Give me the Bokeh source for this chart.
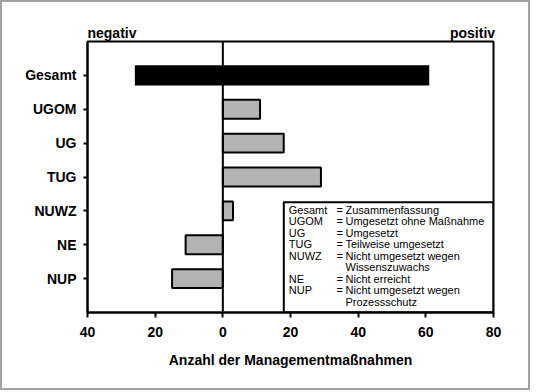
from bokeh.plotting import figure
from bokeh.models import (ColumnDataSource, Range1d, FixedTicker, Span, BoxAnnotation, LinearAxis)
from bokeh.core.properties import value
from bokeh.embed import file_html
from bokeh.resources import INLINE

# ---- data ----
categories = ["Gesamt", "UGOM", "UG", "TUG", "NUWZ", "NE", "NUP"]
values = [None, 11, 18, 29, 3, -11, -15]
gesamt_negative = -26
gesamt_positive = 61
x_ticks = [-40, -20, 0, 20, 40, 60, 80]
x_tick_labels = ["40", "20", "0", "20", "40", "60", "80"]
legend_abbr = ["Gesamt", "UGOM", "UG", "TUG", "NUWZ", "", "NE", "NUP", ""]
legend_text = ["Zusammenfassung", "Umgesetzt ohne Maßnahme", "Umgesetzt",
               "Teilweise umgesetzt", "Nicht umgesetzt wegen", "Wissenszuwachs",
               "Nicht erreicht", "Nicht umgesetzt wegen", "Prozessschutz"]
legend_eq = ["=", "=", "=", "=", "=", "", "=", "=", ""]
x_axis_title = "Anzahl der Managementmaßnahmen"
side_titles = ["negativ", "positiv"]

FONT = "Liberation Sans"
n = len(categories)
ypos = [n - i for i in range(n)]  # Gesamt at top

FW, FH = 406, 271
p = figure(width=526, height=386, output_backend="svg", toolbar_location=None,
           x_range=Range1d(-40, 80), y_range=Range1d(0, n + 1),
           frame_width=FW, frame_height=FH,
           min_border_left=85, min_border_right=35, min_border_top=39, min_border_bottom=76)
p.styles = {"border": "2px solid #a3a3a3"}
p.background_fill_color = "white"
p.border_fill_color = "white"
p.outline_line_color = "black"
p.outline_line_width = 2
p.xgrid.visible = False
p.ygrid.visible = False

px_x = FW / 120.0
px_y = FH / (n + 1)

# Gesamt bar
p.hbar(y=[ypos[0]], left=[gesamt_negative], right=[gesamt_positive], height=0.6,
       fill_color="black", line_color=None)

# other bars
src = ColumnDataSource(dict(y=ypos[1:], right=values[1:], left=[0] * (n - 1)))
p.hbar(y="y", left="left", right="right", height=0.56, source=src,
       fill_color="#b3b3b3", line_color="black", line_width=2)

p.add_layout(Span(location=0, dimension="height", line_color="black", line_width=2))

# axes
xa = p.xaxis[0]
xa.ticker = FixedTicker(ticks=x_ticks)
xa.major_label_overrides = {t: l for t, l in zip(x_ticks, x_tick_labels)}
xa.minor_tick_line_color = None
xa.major_tick_in = 0
xa.major_tick_out = 5
xa.major_tick_line_width = 2
xa.axis_line_width = 2
xa.major_label_text_font = FONT
xa.major_label_text_font_style = "bold"
xa.major_label_text_font_size = "14px"
xa.major_label_text_color = "black"
xa.major_label_standoff = 9
xa.axis_label = x_axis_title
xa.axis_label_text_font = FONT
xa.axis_label_text_font_style = "bold"
xa.axis_label_text_font_size = "14px"
xa.axis_label_text_color = "black"
xa.axis_label_standoff = 12

ya = p.yaxis[0]
ya.ticker = FixedTicker(ticks=ypos)
ya.major_label_overrides = {y: c for y, c in zip(ypos, categories)}
ya.minor_tick_line_color = None
ya.major_tick_in = 0
ya.major_tick_out = 4
ya.major_tick_line_width = 2
ya.axis_line_width = 2
ya.major_label_text_font = FONT
ya.major_label_text_font_style = "bold"
ya.major_label_text_font_size = "14px"
ya.major_label_text_color = "black"
ya.major_label_standoff = 7

# "negativ" / "positiv" above the frame, via an extra axis without line/ticks
neg_center = -40 + 24.5 / px_x
pos_center = 80 + 1.5 / px_x - 22.5 / px_x
top_ticks = [neg_center, pos_center]
ta = LinearAxis(ticker=FixedTicker(ticks=top_ticks),
                major_label_overrides={t: s for t, s in zip(top_ticks, side_titles)},
                axis_line_color=None, major_tick_line_color=None, minor_tick_line_color=None,
                major_tick_in=0, major_tick_out=0,
                major_label_standoff=1, major_label_text_font=FONT,
                major_label_text_font_style="bold", major_label_text_font_size="14px",
                major_label_text_color="black")
p.add_layout(ta, "above")

# legend box
box_left = -40 + (283.3 - 87) / px_x
box_top = (312 - 201.7) / px_y
p.add_layout(BoxAnnotation(left=box_left, right=80, bottom=0, top=box_top,
                           fill_alpha=0, line_color="black", line_alpha=1, line_width=2))
rows_y = [(312 - (209.3 + 11.5 * i)) / px_y for i in range(len(legend_text))]
lsrc = ColumnDataSource(dict(y=rows_y, abbr=legend_abbr, eq=legend_eq, txt=legend_text))
common = dict(text_font=value(FONT), text_font_size=value("11px"), text_color="black",
              text_baseline="middle", source=lsrc)
p.text(x=-40 + (288.3 - 87) / px_x, y="y", text="abbr", **common)
p.text(x=-40 + (336 - 87) / px_x, y="y", text="eq", **common)
p.text(x=-40 + (345 - 87) / px_x, y="y", text="txt", **common)

open("out.html", "w").write(file_html(p, INLINE))
